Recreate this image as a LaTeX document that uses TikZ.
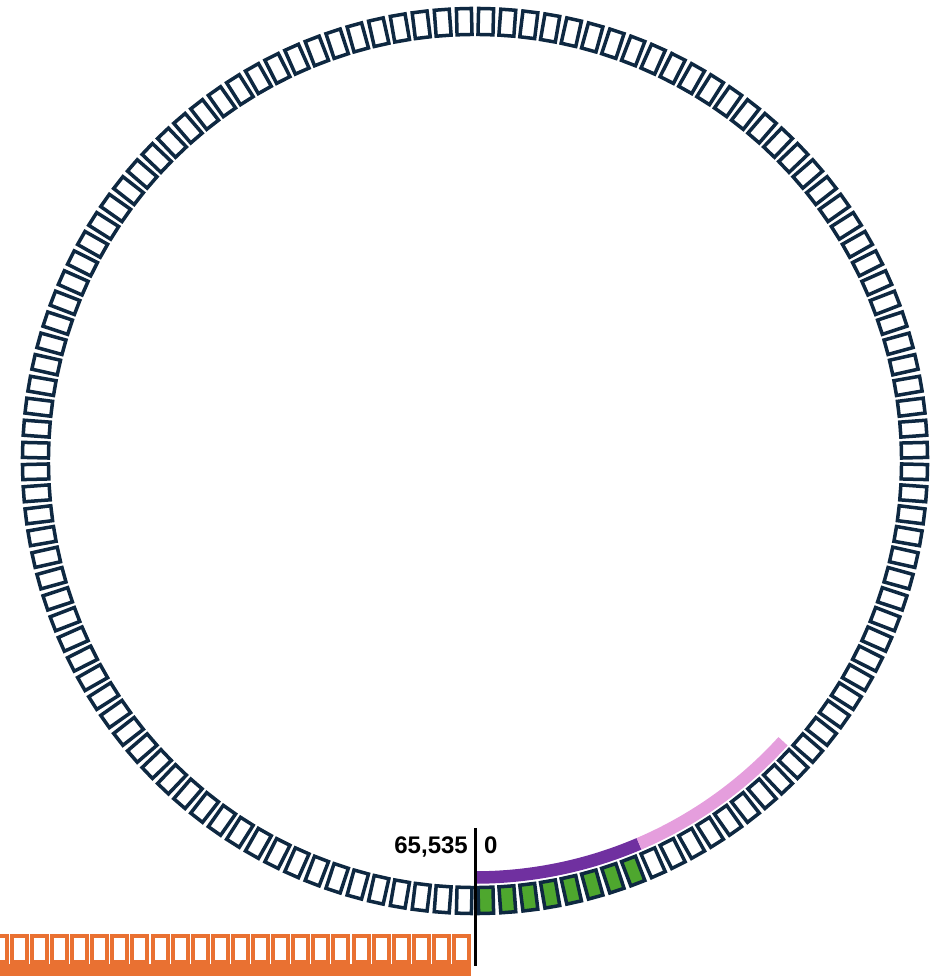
\documentclass[tikz,border=0pt]{standalone}
\usepackage{fontspec}
\setsansfont{Liberation Sans}
\usepackage{xcolor}
\usepackage{tikz}
\usetikzlibrary{positioning}
\definecolor{marino}{HTML}{0E2841}
\definecolor{verde}{HTML}{4EA72E}
\definecolor{morado}{HTML}{7030A0}
\definecolor{rosa}{HTML}{E59EDD}
\definecolor{naranja}{HTML}{E97132}
\tikzset{
  celda/.style={rectangle, draw=marino, line width=3.5pt, fill=white,
    inner sep=0pt, minimum width=15pt, minimum height=26pt},
  casilla/.style={rectangle, draw=naranja, line width=4pt, fill=white,
    inner sep=0pt, minimum width=15pt, minimum height=26pt},
  banda/.style={line width=12.5pt}
}

\begin{document}
\begin{tikzpicture}[x=1pt, y=1pt,
  etiqueta/.style={font=\sffamily\bfseries\fontsize{24}{28}\selectfont, inner sep=0pt},
  marca/.style={black, line width=3pt}]
  \useasboundingbox (0,0) rectangle (935,976);

  % --- Anillo de 128 celdas ---
  \coordinate (centro) at (475,515);
  \begin{scope}[shift={(centro)}]
    \foreach \i in {8,...,127} {
      \pgfmathsetmacro{\ang}{-90+(\i+0.5)*2.8125}
      \node[celda, rotate=\ang+90] (celda-\i) at (\ang:439.5pt) {};
    }
    % celdas ocupadas
    \foreach \i in {0,...,7} {
      \pgfmathsetmacro{\ang}{-90+(\i+0.5)*2.8125}
      \node[celda, fill=verde, rotate=\ang+90] (celda-\i) at (\ang:439.5pt) {};
    }
    % bandas interiores
    \draw[banda, morado] (-90:416.5pt) arc[start angle=-90, end angle=-66.8, radius=416.5pt];
    \draw[banda, rosa] (-66.8:416.5pt) arc[start angle=-66.8, end angle=-42.3, radius=416.5pt];
  \end{scope}

  % --- Marca de inicio / fin ---
  \coordinate (tope) at (475,148);
  \coordinate (pie) at (475,10);
  \draw[marca] (tope) -- (pie);
  \node[etiqueta, anchor=base east] (fin) at (468,122) {65,535};
  \node[etiqueta, anchor=base west] (inicio) at (484,122) {0};

  % --- Fila desplegada ---
  \foreach \k in {0,...,23} {
    \node[casilla] (casilla-\k) at (461.5-\k*20.1,27) {};
  }
  \fill[naranja] (-12,0) rectangle (471,12);

\end{tikzpicture}
\end{document}
